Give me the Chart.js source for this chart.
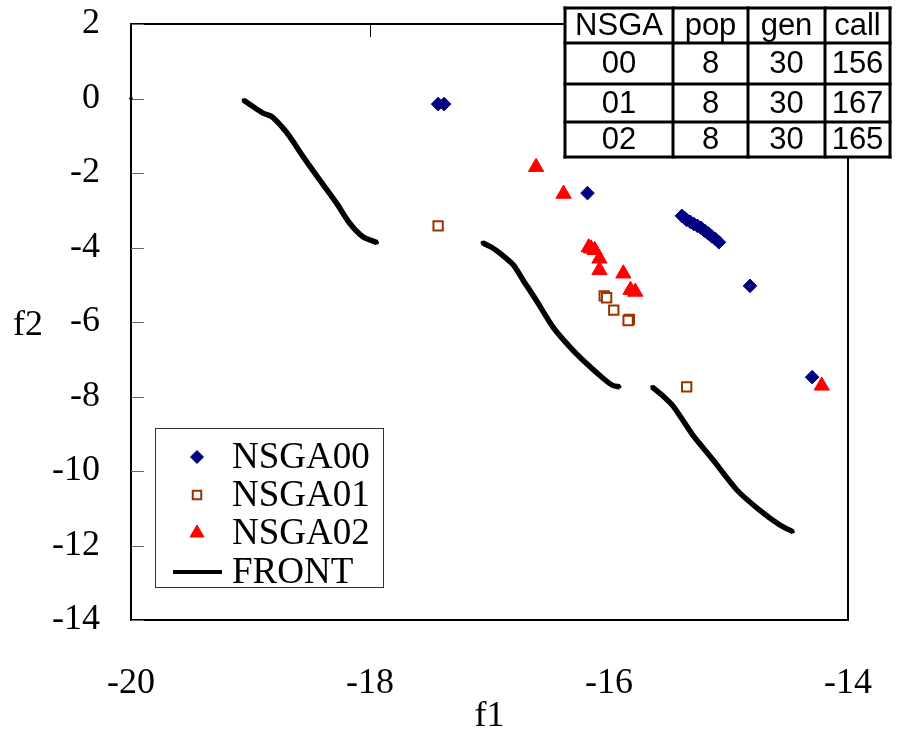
<!DOCTYPE html>
<html>
<head>
<meta charset="utf-8">
<script src="https://cdn.jsdelivr.net/npm/chart.js@4.4.0/dist/chart.umd.min.js"></script>
<style>
  html, body { margin: 0; padding: 0; background: #fff; }
</style>
</head>
<body>
<canvas id="front" width="900" height="735"></canvas>
<script>
// axis ticks
var xTicks = [-20, -18, -16, -14];
var yTicks = [2, 0, -2, -4, -6, -8, -10, -12, -14];

// NSGA00 (diamonds)
var nsga00X = [-17.43, -17.38, -16.18, -15.39, -15.37, -15.35, -15.32, -15.29, -15.26, -15.23, -15.20, -15.17, -15.14, -15.11, -15.08, -14.82, -14.30];
var nsga00Y = [-0.15, -0.15, -2.54, -3.15, -3.20, -3.26, -3.31, -3.37, -3.42, -3.47, -3.55, -3.62, -3.70, -3.77, -3.86, -5.03, -7.48];

// NSGA01 (hollow squares)
var nsga01X = [-17.43, -16.04, -16.02, -15.96, -15.83, -15.84, -15.35];
var nsga01Y = [-3.42, -5.30, -5.35, -5.68, -5.93, -5.96, -7.74];

// NSGA02 (triangles)
var nsga02X = [-16.61, -16.38, -16.17, -16.15, -16.12, -16.08, -16.08, -15.88, -15.82, -15.78, -14.22];
var nsga02Y = [-1.84, -2.56, -4.00, -4.03, -4.07, -4.30, -4.61, -4.70, -5.14, -5.19, -7.71];

// FRONT, null = break in the line
var frontX = [-20.00, -19.5,
  -19.06, -18.95, -18.89, -18.82, -18.74, -18.67, -18.56, -18.42, -18.28, -18.17, -18.06, -17.94, -17.5,
  -17.06, -16.98, -16.91, -16.80, -16.72, -16.61, -16.47, -16.33, -16.19, -16.05, -15.97, -15.91, -15.8,
  -15.64, -15.55, -15.46, -15.30, -15.13, -14.93, -14.74, -14.57, -14.46];
var frontY = [0.00, null,
  -0.04, -0.28, -0.40, -0.49, -0.75, -1.03, -1.56, -2.19, -2.81, -3.35, -3.71, -3.87, null,
  -3.87, -4.00, -4.16, -4.47, -4.87, -5.41, -6.13, -6.66, -7.11, -7.51, -7.70, -7.74, null,
  -7.74, -7.98, -8.27, -9.03, -9.70, -10.51, -11.05, -11.45, -11.63];

// run table
var tableHead = ['NSGA', 'pop', 'gen', 'call'];
var tableRows = [
  ['00', '8', '30', '156'],
  ['01', '8', '30', '167'],
  ['02', '8', '30', '165']
];

var serif = 'Liberation Serif';
var sans = 'Liberation Sans';

function toPoints(xs, ys) {
  return xs.map(function (x, i) { return { x: x, y: ys[i] }; });
}

// keep the plot box exactly where layout.padding puts it
function noScalePadding(s) {
  s.paddingTop = 0;
  s.paddingBottom = 0;
  s.paddingLeft = 0;
  s.paddingRight = 0;
}

var legendItems = [
  { text: 'NSGA00', style: 'rectRot', radius: 6.5, fill: '#000080', stroke: '#000080', bw: 1 },
  { text: 'NSGA01', style: 'rect', radius: 6, fill: '#ffffff', stroke: '#993300', bw: 2 },
  { text: 'NSGA02', style: 'triangle', radius: 8, fill: '#ff0000', stroke: '#ff0000', bw: 1 },
  { text: 'FRONT', style: 'line' }
];

// frame round the plot and the inside tick marks
var framePlugin = {
  id: 'framePlugin',
  beforeDatasetsDraw: function (chart) {
    var ctx = chart.ctx, a = chart.chartArea;
    var xs = chart.scales.x, ys = chart.scales.y;
    ctx.save();
    ctx.strokeStyle = '#000';
    ctx.lineWidth = 2;
    ctx.strokeRect(a.left, a.top, a.right - a.left, a.bottom - a.top);
    ctx.lineWidth = 1;
    ctx.strokeStyle = '#666';
    yTicks.forEach(function (v) {
      var py = Math.round(ys.getPixelForValue(v)) + 0.5;
      ctx.beginPath();
      ctx.moveTo(a.left, py);
      ctx.lineTo(a.left + 13, py);
      ctx.stroke();
    });
    ctx.strokeStyle = '#000';
    xTicks.forEach(function (v) {
      var px = Math.round(xs.getPixelForValue(v)) + 0.5;
      ctx.beginPath();
      ctx.moveTo(px, a.top);
      ctx.lineTo(px, a.top + 13);
      ctx.stroke();
    });
    ctx.restore();
  }
};

// legend box, f2 label and the run table
var overlayPlugin = {
  id: 'overlayPlugin',
  afterDraw: function (chart) {
    var ctx = chart.ctx;
    ctx.save();

    // f2 label (not rotated)
    ctx.fillStyle = '#000';
    ctx.font = '36px "' + serif + '"';
    ctx.textAlign = 'center';
    ctx.textBaseline = 'middle';
    ctx.fillText('f2', 28, 326);

    // legend
    ctx.fillStyle = '#fff';
    ctx.fillRect(155, 428, 228, 159);
    ctx.strokeStyle = '#333';
    ctx.lineWidth = 1;
    ctx.strokeRect(155.5, 428.5, 228, 159);
    var rowY = [457, 495, 533, 572];
    legendItems.forEach(function (it, i) {
      var y = rowY[i];
      if (it.style === 'line') {
        ctx.strokeStyle = '#000';
        ctx.lineWidth = 4;
        ctx.beginPath();
        ctx.moveTo(173, y);
        ctx.lineTo(222, y);
        ctx.stroke();
      } else {
        ctx.fillStyle = it.fill;
        ctx.strokeStyle = it.stroke;
        ctx.lineWidth = it.bw;
        Chart.helpers.drawPoint(ctx, { pointStyle: it.style, radius: it.radius, borderWidth: it.bw, rotation: 0 }, 197, y);
      }
      ctx.fillStyle = '#000';
      ctx.font = '37px "' + serif + '"';
      ctx.textAlign = 'left';
      ctx.textBaseline = 'middle';
      ctx.fillText(it.text, 232, y + 1);
    });

    // table
    var colX = [565, 673, 748, 825, 890];
    var rowEdge = [8, 43, 84, 122, 157];
    ctx.fillStyle = '#fff';
    ctx.fillRect(colX[0], rowEdge[0], colX[4] - colX[0], rowEdge[4] - rowEdge[0]);
    ctx.strokeStyle = '#000';
    ctx.lineWidth = 3;
    colX.forEach(function (x) {
      ctx.beginPath(); ctx.moveTo(x, rowEdge[0] - 1.5); ctx.lineTo(x, rowEdge[4] + 1.5); ctx.stroke();
    });
    rowEdge.forEach(function (y) {
      ctx.beginPath(); ctx.moveTo(colX[0] - 1.5, y); ctx.lineTo(colX[4] + 1.5, y); ctx.stroke();
    });
    ctx.fillStyle = '#000';
    ctx.font = '31px "' + sans + '"';
    ctx.textAlign = 'center';
    ctx.textBaseline = 'middle';
    var rows = [tableHead].concat(tableRows);
    rows.forEach(function (r, ri) {
      var cy = (rowEdge[ri] + rowEdge[ri + 1]) / 2 + 1;
      r.forEach(function (cell, ci) {
        ctx.fillText(cell, (colX[ci] + colX[ci + 1]) / 2, cy);
      });
    });
    ctx.restore();
  }
};

var canvas = document.getElementById('front');
new Chart(canvas, {
  type: 'scatter',
  data: {
    datasets: [
      {
        label: 'NSGA00',
        data: toPoints(nsga00X, nsga00Y),
        pointStyle: 'rectRot',
        pointRadius: 6.8,
        backgroundColor: '#000080',
        borderColor: '#000080',
        borderWidth: 1
      },
      {
        label: 'NSGA01',
        data: toPoints(nsga01X, nsga01Y),
        pointStyle: 'rect',
        pointRadius: 6.6,
        backgroundColor: '#ffffff',
        borderColor: '#993300',
        borderWidth: 2
      },
      {
        label: 'NSGA02',
        data: toPoints(nsga02X, nsga02Y),
        pointStyle: 'triangle',
        pointRadius: 8.8,
        backgroundColor: '#ff0000',
        borderColor: '#ff0000',
        borderWidth: 1
      },
      {
        label: 'FRONT',
        data: toPoints(frontX, frontY),
        showLine: true,
        spanGaps: false,
        borderColor: '#000',
        borderWidth: 5.5,
        tension: 0.25,
        pointRadius: 1.8,
        pointBackgroundColor: '#000',
        pointBorderColor: '#000',
        pointBorderWidth: 0,
        clip: false
      }
    ]
  },
  options: {
    responsive: false,
    animation: false,
    layout: { padding: { top: 24, right: 52, bottom: 0, left: 0 } },
    plugins: {
      legend: { display: false },
      tooltip: { enabled: false }
    },
    scales: {
      x: {
        type: 'linear',
        min: -20,
        max: -14,
        afterBuildTicks: function (s) { s.ticks = xTicks.map(function (v) { return { value: v }; }); },
        afterFit: function (s) { s.height = 115; noScalePadding(s); },
        grid: { display: false, drawTicks: false },
        border: { display: false },
        ticks: {
          color: '#000',
          padding: 42,
          maxRotation: 0,
          font: { family: serif, size: 36 },
          callback: function (v) { return String(v); }
        },
        title: {
          display: true,
          text: 'f1',
          color: '#000',
          padding: 0,
          font: { family: serif, size: 36, lineHeight: 1 }
        }
      },
      y: {
        type: 'linear',
        min: -14,
        max: 2,
        afterBuildTicks: function (s) { s.ticks = yTicks.map(function (v) { return { value: v }; }); },
        afterFit: function (s) { s.width = 131; noScalePadding(s); },
        grid: { display: false, drawTicks: false },
        border: { display: false },
        ticks: {
          color: '#000',
          padding: 31,
          font: { family: serif, size: 36 },
          callback: function (v) { return String(v); }
        }
      }
    }
  },
  plugins: [framePlugin, overlayPlugin]
});
</script>
</body>
</html>
